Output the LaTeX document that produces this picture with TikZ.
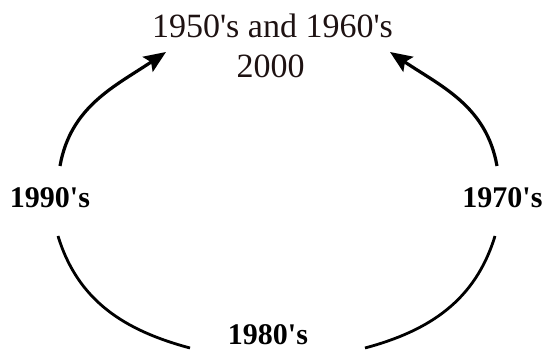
\documentclass[tikz,border=0pt]{standalone}
\usepackage{fontspec}
\setmainfont{Liberation Serif}
\usetikzlibrary{arrows.meta}
\definecolor{ink}{RGB}{30,18,18}
\begin{document}
\begin{tikzpicture}[x=1pt,y=-1pt,
  lbl/.style={inner sep=0pt,anchor=base,font=\fontsize{34}{40}\selectfont,text=ink},
  side/.style={inner sep=0pt,anchor=base,font=\fontsize{30}{36}\selectfont\bfseries},
  arc/.style={line width=3.2pt},
  tip/.style={-{Stealth[length=22pt,width=18pt,inset=4pt]}}]
\useasboundingbox[fill=white] (0,0) rectangle (544,352);
\node[lbl] (top1) at (272.5,38) {1950\textquotesingle s and 1960\textquotesingle s};
\node[lbl] (top2) at (270.5,78) {2000};
\node[side] (n90) at (50,208) {1990\textquotesingle s};
\node[side] (n70) at (502.5,208) {1970\textquotesingle s};
\node[side] (n80) at (268,345) {1980\textquotesingle s};
\coordinate (lu) at (60,166);
\coordinate (lt) at (166,52);
\coordinate (ru) at (497,166);
\coordinate (rt) at (390,52);
\coordinate (ll) at (58,236);
\coordinate (lb) at (190,348);
\coordinate (rl) at (495,236);
\coordinate (rb) at (365,348);
\draw[arc,tip] (lu) to[out=80,in=-146] (lt);
\draw[arc,tip] (ru) to[out=100,in=-34] (rt);
\draw[arc,line width=2.8pt] (ll) to[out=-73,in=165] (lb);
\draw[arc,line width=2.8pt] (rl) to[out=-107,in=15] (rb);
\end{tikzpicture}
\end{document}
